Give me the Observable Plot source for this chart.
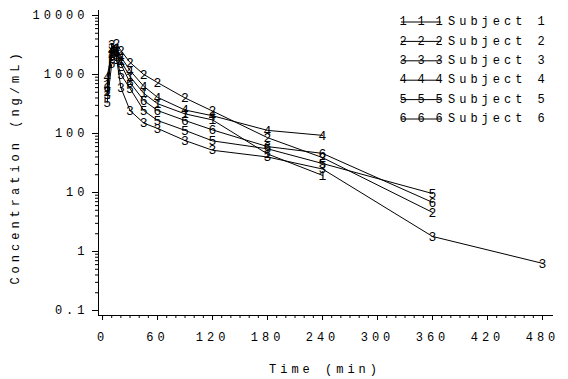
<!DOCTYPE html>
<html><head><meta charset="utf-8">
<script src="https://cdn.jsdelivr.net/npm/d3@7"></script>
<script src="https://cdn.jsdelivr.net/npm/@observablehq/plot@0.6"></script>
<style>body{margin:0;background:#fff}</style>
</head><body><div id="chart"></div>
<script>
// Sampling times (min)
const times = [5, 10, 15, 20, 30, 45, 60, 90, 120, 180, 240, 360, 480];
// Concentrations (ng/mL) per subject, aligned with times
const subject1 = [700, 2200, 2500, 1700, 920, 480, 320, 215, 170, 45, 19.5];
const subject2 = [500, 2800, 3300, 2550, 1600, 1000, 730, 400, 240, 85, 39, 4.6];
const subject3 = [450, 3200, 2000, 600, 245, 150, 122, 76, 52, 40, 25, 1.8, 0.63];
const subject4 = [900, 2500, 2700, 2000, 1170, 630, 410, 250, 200, 113, 93];
const subject5 = [330, 1500, 1800, 1000, 580, 245, 166, 113, 75, 55, 31, 9.6];
const subject6 = [600, 2000, 2300, 1500, 730, 363, 245, 166, 115, 60, 46, 6.8];
const subjects = ["1", "2", "3", "4", "5", "6"];
const series = [subject1, subject2, subject3, subject4, subject5, subject6];
const xTicks = [0, 60, 120, 180, 240, 300, 360, 420, 480];
const yTicks = [0.1, 1, 10, 100, 1000, 10000];
const yTickLabels = ["0.1", "1", "10", "100", "1000", "10000"];
const xLabel = "Time (min)";
const yLabel = "Concentration (ng/mL)";
const legendLabels = subjects.map(s => "Subject " + s);

const rows = [];
series.forEach((vals, si) => vals.forEach((v, i) => rows.push({subject: subjects[si], time: times[i], conc: v})));

const xMinor = d3.range(0, 481, 10);
const yMinor = [];
for (let e = -1; e < 4; e++) for (let k = 2; k <= 9; k++) yMinor.push(k * Math.pow(10, e));

const W = 568, H = 379;
const xDom = [-4.4, 492];
const yDom = [0.0823, 12150];
const FONT = "Liberation Mono, DejaVu Sans Mono, monospace";
const LS = "4px";

const plot = Plot.plot({
  width: W, height: H,
  marginLeft: 98, marginRight: 15, marginTop: 10, marginBottom: 64,
  x: {domain: xDom},
  y: {type: "log", domain: yDom},
  style: {fontFamily: FONT, fontSize: "12px", background: "white", color: "black"},
  marks: [
    Plot.axisX(xMinor, {tickSize: 3, tickFormat: () => "", label: null}),
    Plot.axisX(xTicks, {tickSize: 5, tickPadding: 12, label: null, tickFormat: d => String(d)}),
    Plot.axisY(yMinor, {tickSize: 3, tickFormat: () => "", label: null}),
    Plot.axisY(yTicks, {tickSize: 6, tickPadding: 4, label: null, tickFormat: d => yTickLabels[yTicks.indexOf(d)]}),
    Plot.ruleX([xDom[0]], {stroke: "black"}),
    Plot.ruleY([yDom[0]], {stroke: "black"}),
    Plot.lineY(rows, {x: "time", y: "conc", z: "subject", stroke: "black", strokeWidth: 1}),
    Plot.text(rows, {x: "time", y: "conc", text: "subject", fontSize: 13, fill: "black", fontFamily: FONT})
  ]
});

const svg = d3.select(plot);
svg.selectAll("[aria-label='x-axis tick label'] text, [aria-label='y-axis tick label'] text")
  .style("letter-spacing", LS);

// axis titles
svg.append("text").attr("x", 325).attr("y", 370).attr("text-anchor", "middle")
  .attr("dominant-baseline", "middle").style("letter-spacing", LS)
  .attr("font-family", FONT).attr("font-size", 12).text(xLabel);
svg.append("text").attr("transform", "translate(16,167) rotate(-90)").attr("text-anchor", "middle")
  .attr("dominant-baseline", "middle").style("letter-spacing", LS)
  .attr("font-family", FONT).attr("font-size", 12).text(yLabel);

// legend
const lg = svg.append("g").attr("font-family", FONT);
subjects.forEach((s, i) => {
  const y = 22 + 19.4 * i;
  lg.append("line").attr("x1", 401).attr("x2", 441).attr("y1", y).attr("y2", y).attr("stroke", "black");
  [403, 421, 439].forEach(x => lg.append("text").attr("x", x).attr("y", y).attr("text-anchor", "middle")
    .attr("dominant-baseline", "middle").attr("font-size", 12).text(s));
  lg.append("text").attr("x", 448).attr("y", y).attr("text-anchor", "start").attr("dominant-baseline", "middle")
    .attr("font-size", 12).style("letter-spacing", LS).text(legendLabels[i]);
});

document.getElementById("chart").appendChild(plot);
</script>
</body></html>
